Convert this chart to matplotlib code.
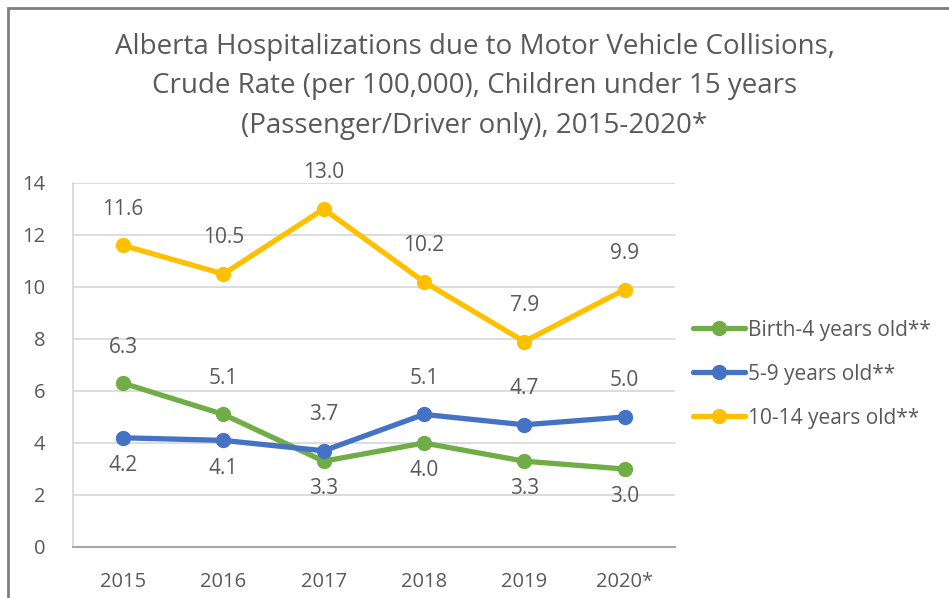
import matplotlib.pyplot as plt
from matplotlib.patches import Rectangle

plt.rcParams['font.family'] = ['Open Sans', 'DejaVu Sans']

years = ['2015', '2016', '2017', '2018', '2019', '2020*']
birth_4 = [6.3, 5.1, 3.3, 4.0, 3.3, 3.0]
age_5_9 = [4.2, 4.1, 3.7, 5.1, 4.7, 5.0]
age_10_14 = [11.6, 10.5, 13.0, 10.2, 7.9, 9.9]

# which labels sit above (+1) or below (-1) the point
birth_pos = [1, 1, -1, -1, -1, -1]
mid_pos = [-1, -1, 1, 1, 1, 1]
old_pos = [1, 1, 1, 1, 1, 1]

txt = '#595959'
fig = plt.figure(figsize=(9.49, 5.98), dpi=100)
ax = fig.add_axes([0.0769, 0.0853, 0.634, 0.6087])

# outer chart border (cropped at right/bottom)
fig.patches.append(Rectangle((8 / 949, -0.1), 1.2, 1 - 8 / 598 + 0.1,
                             transform=fig.transFigure, fill=False,
                             edgecolor='#7f7f7f', linewidth=2))

x = range(len(years))
series = [
    (birth_4, birth_pos, '#70AD47', 'Birth-4 years old**'),
    (age_5_9, mid_pos, '#4472C4', '5-9 years old**'),
    (age_10_14, old_pos, '#FFC000', '10-14 years old**'),
]
for vals, pos, col, lab in series:
    ax.plot(x, vals, color=col, linewidth=3.8, marker='o', markersize=10,
            label=lab, solid_capstyle='round', zorder=3)
    for i, v in enumerate(vals):
        off = 26 if pos[i] > 0 else -20
        ax.annotate(f'{v:.1f}', (i, v), xytext=(0, off), textcoords='offset points',
                    ha='center', va='center', fontsize=15, color=txt)

ax.set_xlim(-0.5, 5.5)
ax.set_ylim(0, 14)
ax.set_yticks(range(0, 15, 2))
ax.set_xticks(list(x))
ax.set_xticklabels(years)
ax.tick_params(length=0, labelsize=14.5, colors=txt)
ax.tick_params(axis='x', pad=18)
ax.tick_params(axis='y', pad=20)
ax.grid(axis='y', color='#d9d9d9', linewidth=1.3)
ax.set_axisbelow(True)
for s in ['top', 'right']:
    ax.spines[s].set_visible(False)
ax.spines['left'].set_color('#d9d9d9')
ax.spines['left'].set_linewidth(1.3)
ax.spines['bottom'].set_color('#a6a6a6')
ax.spines['bottom'].set_linewidth(1.5)

leg = ax.legend(loc='center left', bbox_to_anchor=(1.0, 0.475), frameon=False,
                fontsize=15, labelcolor=txt, handlelength=2.5, handletextpad=0.1,
                labelspacing=1.1)

fig.text(0.5, 0.945, 'Alberta Hospitalizations due to Motor Vehicle Collisions,\n'
         'Crude Rate (per 100,000), Children under 15 years\n'
         '(Passenger/Driver only), 2015-2020*',
         ha='center', va='top', fontsize=20, color=txt, linespacing=1.55)

fig.savefig('out.png', dpi=100)
